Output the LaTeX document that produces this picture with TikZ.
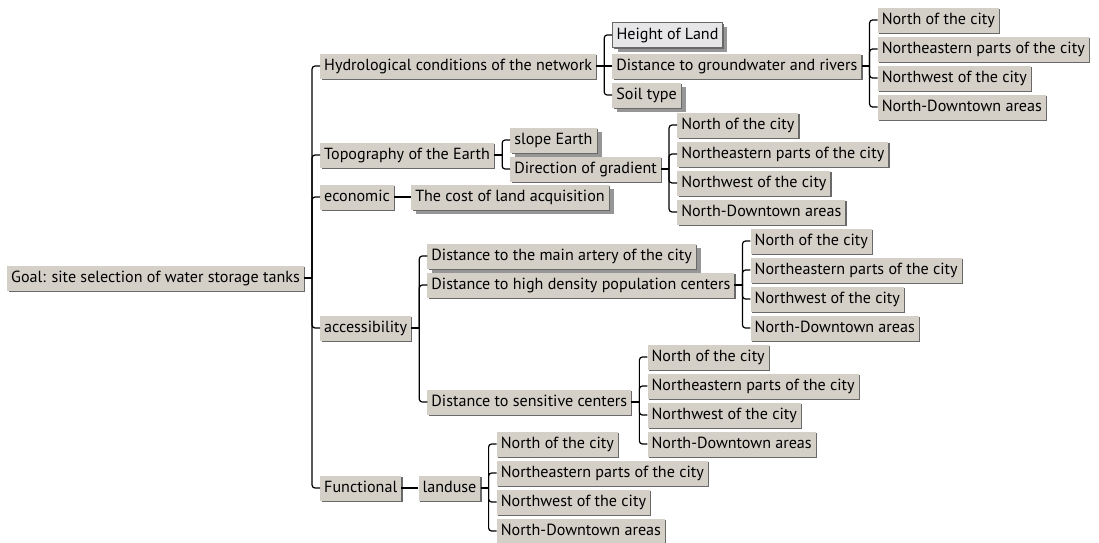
\documentclass[tikz,border=0pt]{standalone}
\usepackage{fontspec}
\setmainfont{PT Sans}
\usetikzlibrary{positioning,shadows}
\definecolor{winface}{RGB}{212,208,200}
\definecolor{winedge}{RGB}{105,105,105}
\definecolor{winshade}{RGB}{150,150,150}
\definecolor{winlight}{RGB}{230,230,232}

\begin{document}
\begin{tikzpicture}[
  x=1pt,y=1pt,
  node distance=16pt,
  every node/.style={font=\fontsize{16.1}{19}\selectfont},
  box/.style={fill=winface,inner xsep=4pt,inner ysep=0pt,minimum height=25pt,
              text height=12pt,text depth=4pt,
              drop shadow={shadow xshift=1.3pt,shadow yshift=-1.3pt,fill=winedge,opacity=1}},
  leaf/.style={drop shadow={shadow xshift=5pt,shadow yshift=-4pt,fill=winshade,opacity=1},box},
  picked/.style={leaf,fill=winlight,draw=winedge,line width=0.8pt},
  link/.style={line width=1.2pt,black,rounded corners=3pt}]
\useasboundingbox (0,0) rectangle (1099,-542);
%--- Goal ---
\node[box,anchor=west] (goal) at (7,-278) {Goal: site selection of water storage tanks};
%--- Criteria ---
\node[box,right=of goal,yshift=212pt]  (hyd)  {Hydrological conditions of the network};
\node[box,right=of goal,yshift=123pt]  (topo) {Topography of the Earth};
\node[box,right=of goal,yshift=81pt]   (econ) {economic};
\node[box,right=of goal,yshift=-50pt]  (acc)  {accessibility};
\node[box,right=of goal,yshift=-210pt] (func) {Functional};
%--- Hydrology ---
\node[picked,right=of hyd,yshift=31pt] (height) {Height of Land};
\node[box,right=of hyd]                (gw)     {Distance to groundwater and rivers};
\node[leaf,right=of hyd,yshift=-29pt]  (soil)   {Soil type};
\node[box,right=of gw,yshift=46pt]  (gwN)  {North of the city};
\node[box,right=of gw,yshift=17pt]  (gwNE) {Northeastern parts of the city};
\node[box,right=of gw,yshift=-12pt] (gwNW) {Northwest of the city};
\node[box,right=of gw,yshift=-41pt] (gwND) {North-Downtown areas};
%--- Topography ---
\node[leaf,right=of topo,yshift=15pt] (slope) {slope Earth};
\node[box,right=of topo,yshift=-14pt] (grad)  {Direction of gradient};
\node[box,right=of grad,yshift=44pt]  (gradN)  {North of the city};
\node[box,right=of grad,yshift=15pt]  (gradNE) {Northeastern parts of the city};
\node[box,right=of grad,yshift=-14pt] (gradNW) {Northwest of the city};
\node[box,right=of grad,yshift=-43pt] (gradND) {North-Downtown areas};
%--- economic ---
\node[leaf,right=17pt of econ] (cost) {The cost of land acquisition};
%--- accessibility ---
\node[leaf,right=of acc,yshift=72pt] (artery) {Distance to the main artery of the city};
\node[box,right=of acc,yshift=43pt]  (dense)  {Distance to high density population centers};
\node[box,right=of acc,yshift=-74pt] (sens)   {Distance to sensitive centers};
\node[box,right=of dense,yshift=44pt]  (denseN)  {North of the city};
\node[box,right=of dense,yshift=15pt]  (denseNE) {Northeastern parts of the city};
\node[box,right=of dense,yshift=-14pt] (denseNW) {Northwest of the city};
\node[box,right=of dense,yshift=-43pt] (denseND) {North-Downtown areas};
\node[box,right=of sens,yshift=45pt]  (sensN)  {North of the city};
\node[box,right=of sens,yshift=16pt]  (sensNE) {Northeastern parts of the city};
\node[box,right=of sens,yshift=-13pt] (sensNW) {Northwest of the city};
\node[box,right=of sens,yshift=-42pt] (sensND) {North-Downtown areas};
%--- Functional ---
\node[box,right=17pt of func] (use) {landuse};
\node[box,right=of use,yshift=44pt]  (useN)  {North of the city};
\node[box,right=of use,yshift=15pt]  (useNE) {Northeastern parts of the city};
\node[box,right=of use,yshift=-14pt] (useNW) {Northwest of the city};
\node[box,right=of use,yshift=-43pt] (useND) {North-Downtown areas};
%--- Joints ---
\coordinate (goalJ) at ([xshift=8pt]goal.east);
\coordinate (hydJ)  at ([xshift=8pt]hyd.east);
\coordinate (gwJ)   at ([xshift=8pt]gw.east);
\coordinate (topoJ) at ([xshift=8pt]topo.east);
\coordinate (gradJ) at ([xshift=8pt]grad.east);
\coordinate (accJ)  at ([xshift=8pt]acc.east);
\coordinate (denseJ) at ([xshift=8pt]dense.east);
\coordinate (sensJ) at ([xshift=8pt]sens.east);
\coordinate (useJ)  at ([xshift=8pt]use.east);
%--- Goal links ---
\draw[link] (goal) -- (goalJ);
\draw[link] (goalJ) |- (hyd);
\draw[link] (goalJ) |- (topo);
\draw[link] (goalJ) |- (econ);
\draw[link] (goalJ) |- (acc);
\draw[link] (goalJ) |- (func);
%--- Hydrology links ---
\draw[link] (hyd) -- (hydJ);
\draw[link] (hydJ) |- (height);
\draw[link] (hydJ) -- (gw);
\draw[link] (hydJ) |- (soil);
\draw[link] (gw) -- (gwJ);
\draw[link] (gwJ) |- (gwN);
\draw[link] (gwJ) |- (gwNE);
\draw[link] (gwJ) |- (gwNW);
\draw[link] (gwJ) |- (gwND);
%--- Topography links ---
\draw[link] (topo) -- (topoJ);
\draw[link] (topoJ) |- (slope);
\draw[link] (topoJ) |- (grad);
\draw[link] (grad) -- (gradJ);
\draw[link] (gradJ) |- (gradN);
\draw[link] (gradJ) |- (gradNE);
\draw[link] (gradJ) |- (gradNW);
\draw[link] (gradJ) |- (gradND);
%--- economic link ---
\draw[link] (econ) -- (cost);
%--- accessibility links ---
\draw[link] (acc) -- (accJ);
\draw[link] (accJ) |- (artery);
\draw[link] (accJ) |- (dense);
\draw[link] (accJ) |- (sens);
\draw[link] (dense) -- (denseJ);
\draw[link] (denseJ) |- (denseN);
\draw[link] (denseJ) |- (denseNE);
\draw[link] (denseJ) |- (denseNW);
\draw[link] (denseJ) |- (denseND);
\draw[link] (sens) -- (sensJ);
\draw[link] (sensJ) |- (sensN);
\draw[link] (sensJ) |- (sensNE);
\draw[link] (sensJ) |- (sensNW);
\draw[link] (sensJ) |- (sensND);
%--- Functional links ---
\draw[link] (func) -- (use);
\draw[link] (use) -- (useJ);
\draw[link] (useJ) |- (useN);
\draw[link] (useJ) |- (useNE);
\draw[link] (useJ) |- (useNW);
\draw[link] (useJ) |- (useND);
\end{tikzpicture}
\end{document}
